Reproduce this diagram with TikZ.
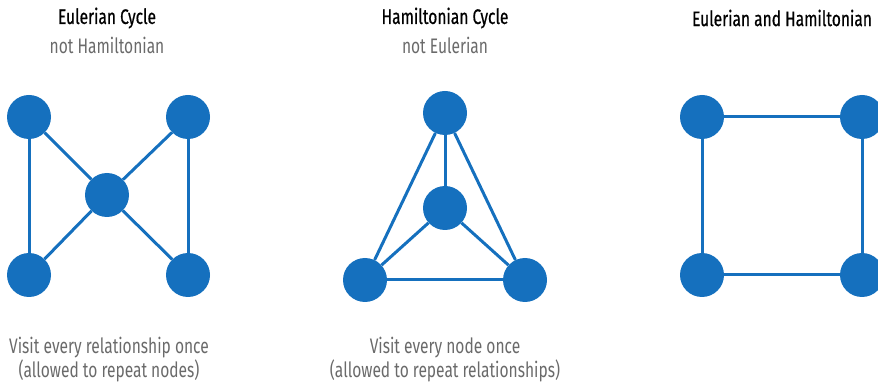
\documentclass[tikz,border=0pt]{standalone}
\usepackage{fontspec}
\setmainfont{Fira Sans}[FakeStretch=0.74]
\newfontfamily\titlefont{Fira Sans}[FakeStretch=0.74,FakeBold=0.6]
\usepackage{tikz}
\usetikzlibrary{positioning}

\definecolor{nodeblue}{HTML}{1570BE}
\definecolor{subgray}{HTML}{6A6A6A}

\tikzset{
	vert/.style={circle,fill=nodeblue,draw=none,inner sep=0pt,minimum size=44pt},
	edge/.style={draw=nodeblue,line width=3pt},
	title/.style={font=\titlefont\fontsize{21}{24}\selectfont,text=black},
	subtitle/.style={font=\fontsize{21}{24}\selectfont,text=subgray},
	note/.style={font=\fontsize{21}{24}\selectfont,text=subgray}
}

\begin{document}
\begin{tikzpicture}[scale=1]
	\useasboundingbox (0pt,0pt) rectangle (878pt,383pt);
	
	% Eulerian, not Hamiltonian
	\node[title] (t1) at (107pt,365pt){Eulerian Cycle};
	\node[subtitle] (s1) at (107pt,338pt){not Hamiltonian};
	\node[vert] (a1) at (29pt,266pt){};
	\node[vert] (a2) at (188pt,266pt){};
	\node[vert] (a3) at (107pt,188pt){};
	\node[vert] (a4) at (29pt,108pt){};
	\node[vert] (a5) at (188pt,108pt){};
	\draw[edge] (a1)--(a4);
	\draw[edge] (a1)--(a3);
	\draw[edge] (a3)--(a4);
	\draw[edge] (a2)--(a5);
	\draw[edge] (a2)--(a3);
	\draw[edge] (a3)--(a5);
	\node[note] (n1) at (109pt,35pt){Visit every relationship once};
	\node[note] (m1) at (109pt,12pt){(allowed to repeat nodes)};
	
	% Hamiltonian, not Eulerian
	\node[title] (t2) at (445pt,365pt){Hamiltonian Cycle};
	\node[subtitle] (s2) at (445pt,338pt){not Eulerian};
	\node[vert] (b1) at (445pt,270pt){};
	\node[vert] (b2) at (445pt,175pt){};
	\node[vert] (b3) at (365pt,103pt){};
	\node[vert] (b4) at (525pt,103pt){};
	\draw[edge] (b1)--(b2);
	\draw[edge] (b1)--(b3);
	\draw[edge] (b1)--(b4);
	\draw[edge] (b2)--(b3);
	\draw[edge] (b2)--(b4);
	\draw[edge] (b3)--(b4);
	\node[note] (n2) at (445pt,35pt){Visit every node once};
	\node[note] (m2) at (445pt,12pt){(allowed to repeat relationships)};
	
	% both
	\node[title] (t3) at (782pt,365pt){Eulerian and Hamiltonian};
	\node[vert] (c1) at (702pt,266pt){};
	\node[vert] (c2) at (862pt,266pt){};
	\node[vert] (c3) at (702pt,108pt){};
	\node[vert] (c4) at (862pt,108pt){};
	\draw[edge] (c1)--(c2);
	\draw[edge] (c2)--(c4);
	\draw[edge] (c4)--(c3);
	\draw[edge] (c3)--(c1);
\end{tikzpicture}
\end{document}
